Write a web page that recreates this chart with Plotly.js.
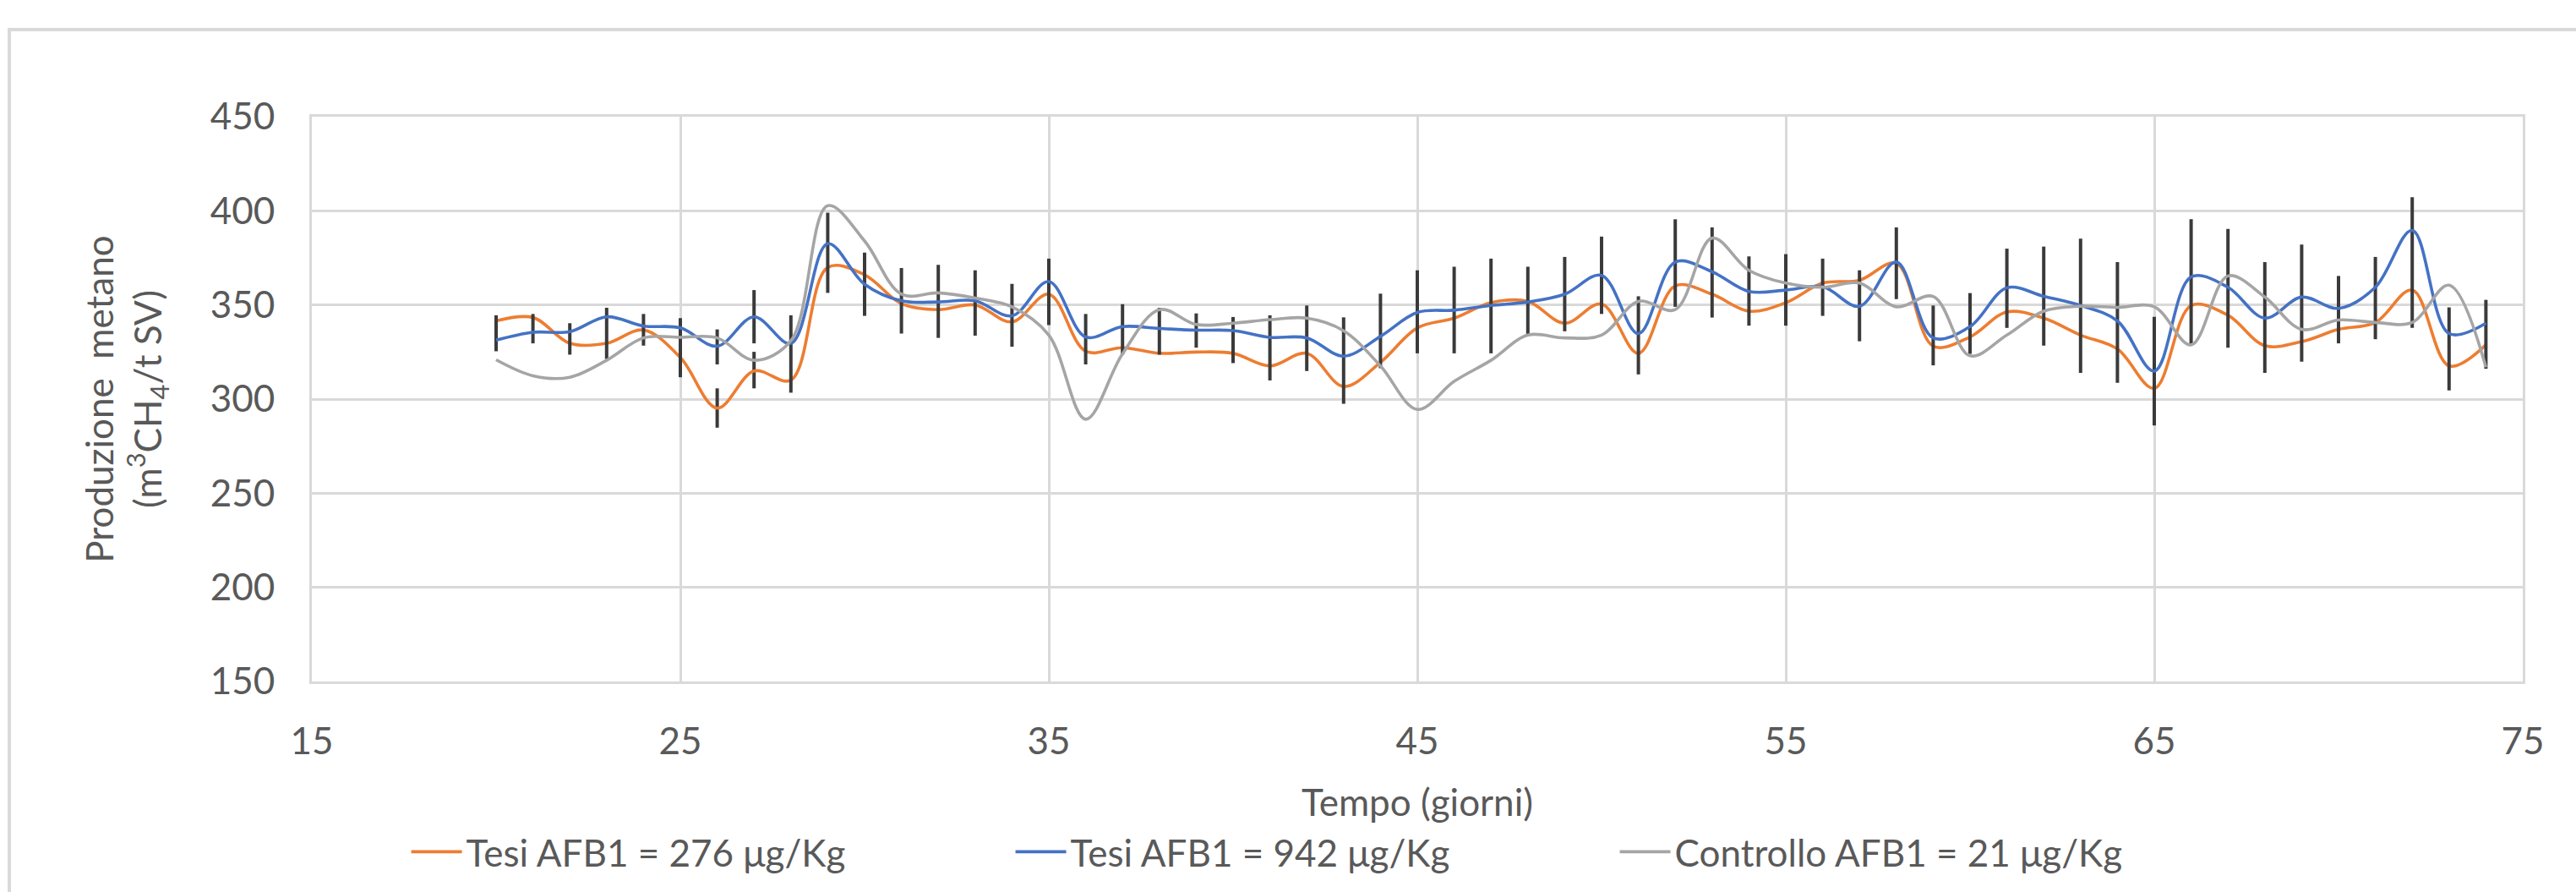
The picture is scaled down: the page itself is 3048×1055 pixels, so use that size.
<!DOCTYPE html>
<html>
<head>
<meta charset="utf-8">
<script src="https://cdn.plot.ly/plotly-3.0.1.min.js"></script>
<style>
  html, body { margin: 0; padding: 0; background: #ffffff; overflow: hidden; }
  #chart { position: absolute; left: 0; top: 0; width: 3048px; height: 1055px; }
  #frame { position: absolute; left: 9px; top: 33px; width: 3200px; height: 1200px;
           border-left: 4px solid #D9D9D9; border-top: 4px solid #D9D9D9; pointer-events: none; }
</style>
</head>
<body>
<div id="chart"></div>
<div id="frame"></div>
<script>
// Days (x values)
const days = [20,21,22,23,24,25,26,27,28,29,30,31,32,33,34,35,36,37,38,39,40,41,42,43,44,45,46,47,
              48,49,50,51,52,53,54,55,56,57,58,59,60,61,62,63,64,65,66,67,68,69,70,71,72,73,74];

// Tesi AFB1 = 276 µg/Kg
const tesi276 = [341.5,343.3,329.6,329.6,336.7,322.1,295.2,314.9,310.1,369.9,366.0,350.7,347.5,350.0,
                 341.0,355.7,325.4,327.3,324.3,325.0,324.3,317.6,324.3,306.7,319.5,337.8,343.0,351.2,
                 351.9,340.3,350.5,324.3,360.1,355.7,346.7,351.2,361.6,363.1,372.1,328.1,333.0,346.3,
                 343.0,334.0,326.6,305.7,349.7,344.5,328.4,330.5,337.0,340.7,357.9,317.6,328.8];

// Tesi AFB1 = 942 µg/Kg
const tesi942 = [331.3,335.5,335.8,343.7,338.8,337.8,328.1,343.7,329.6,382.5,361.0,352.2,351.6,352.2,
                 344.2,362.4,333.0,338.5,337.5,336.6,336.4,332.8,332.5,322.8,333.3,346.0,347.2,349.7,
                 351.6,355.7,365.7,334.8,372.8,367.6,357.2,357.9,359.7,349.3,372.8,332.5,338.5,359.1,
                 354.6,349.7,341.5,314.9,364.9,359.4,343.0,354.2,348.2,359.4,389.6,334.8,340.3];

// Controllo AFB1 = 21 µg/Kg
const controllo = [320.9,312.4,311.6,320.6,332.5,332.8,332.5,320.6,331.0,402.7,384.0,355.7,356.4,353.7,
                   349.0,334.0,289.3,324.0,347.5,339.6,340.3,342.2,343.0,336.3,317.6,294.5,309.4,320.6,
                   334.0,332.5,334.0,351.9,347.5,385.5,368.4,361.6,359.4,361.6,349.0,354.5,323.0,334.0,
                   346.7,349.3,348.7,349.0,328.8,365.4,354.2,337.0,342.0,340.7,340.7,360.5,316.9];

// Visible error bar extents (top / bottom) for each day
const barHigh = [344.5,345.2,340.3,348.5,345.2,343.0,337.0,357.9,344.5,399.0,377.8,369.6,371.3,368.4,
                 361.2,374.6,345.2,350.4,348.5,345.5,343.6,344.5,349.7,343.4,356.0,368.4,370.3,374.6,
                 370.3,375.5,386.3,354.6,395.5,391.2,375.8,377.0,374.6,368.4,391.2,349.7,356.3,379.9,
                 381.0,385.2,372.8,343.7,395.5,390.4,372.8,382.1,365.4,375.5,407.2,348.7,352.7];
const barLow  = [325.4,329.6,323.6,321.3,328.4,311.6,318.4,329.6,303.4,356.4,344.2,334.8,332.5,333.7,
                 327.8,339.3,318.4,323.6,323.6,327.3,319.1,309.9,314.9,297.5,316.4,324.3,324.3,324.3,
                 334.0,336.0,345.2,313.1,349.0,343.3,339.0,339.0,344.2,330.7,353.1,317.9,324.0,337.8,
                 328.4,313.9,308.7,286.0,328.8,327.3,313.9,319.9,329.6,331.8,337.8,304.6,316.1];
// Separate bars of the 276 µg/Kg series (days 26 and 27)
const orangeBarDays = [26, 27];
const orangeBarHigh = [305.7, 325.1];
const orangeBarLow  = [284.8, 305.7];

// Tick values
const xTicks = [15,25,35,45,55,65,75];
const yTicks = [150,200,250,300,350,400,450];

const names = ['Tesi AFB1 = 276 μg/Kg', 'Tesi AFB1 = 942 μg/Kg', 'Controllo AFB1 = 21 μg/Kg'];
const colors = ['#ED7D31', '#4472C4', '#A5A5A5'];

const blueErrPlus  = barHigh.map((h, i) => +(h - tesi942[i]).toFixed(2));
const blueErrMinus = barLow.map((l, i) => +(tesi942[i] - l).toFixed(2));
const orangeErrPlus  = days.map((d, i) => { const k = orangeBarDays.indexOf(d); return k < 0 ? 0 : +(orangeBarHigh[k] - tesi276[i]).toFixed(2); });
const orangeErrMinus = days.map((d, i) => { const k = orangeBarDays.indexOf(d); return k < 0 ? 0 : +(tesi276[i] - orangeBarLow[k]).toFixed(2); });

const errStyle = { type: 'data', symmetric: false, color: '#3a3a3a', thickness: 4, width: 0 };

const traces = [
  { x: days, y: tesi276, name: names[0], type: 'scatter', mode: 'lines',
    line: { color: colors[0], width: 3.6, shape: 'spline', smoothing: 1 },
    error_y: Object.assign({ array: orangeErrPlus, arrayminus: orangeErrMinus }, errStyle) },
  { x: days, y: tesi942, name: names[1], type: 'scatter', mode: 'lines',
    line: { color: colors[1], width: 3.6, shape: 'spline', smoothing: 1 },
    error_y: Object.assign({ array: blueErrPlus, arrayminus: blueErrMinus }, errStyle) },
  { x: days, y: controllo, name: names[2], type: 'scatter', mode: 'lines',
    line: { color: colors[2], width: 3.6, shape: 'spline', smoothing: 1 } }
];

const txt = '#595959';
const font = 'Lato, "Open Sans", sans-serif';

const layout = {
  width: 3048, height: 1055,
  margin: { l: 369, r: 63, t: 138, b: 245, pad: 0 },
  paper_bgcolor: 'rgba(0,0,0,0)', plot_bgcolor: '#ffffff',
  font: { family: font, size: 44, color: txt },
  showlegend: true,
  xaxis: {
    range: [15, 75], tickvals: xTicks, ticktext: xTicks.map(String),
    showgrid: true, gridcolor: '#D9D9D9', gridwidth: 3,
    showline: true, linecolor: '#D9D9D9', linewidth: 3, mirror: true,
    zeroline: false, ticks: '', ticklabelstandoff: 30,
    tickfont: { family: font, size: 44, color: txt },
    title: { text: 'Tempo (giorni)', standoff: 35, font: { family: font, size: 44, color: txt } }
  },
  yaxis: {
    range: [150, 450], tickvals: yTicks, ticktext: yTicks.map(String),
    showgrid: true, gridcolor: '#D9D9D9', gridwidth: 3,
    showline: true, linecolor: '#D9D9D9', linewidth: 3, mirror: true,
    zeroline: false, ticks: '', ticklabelstandoff: 32,
    tickfont: { family: font, size: 44, color: txt },
    title: { text: 'Produzione  metano<br>(m<sup>3</sup>CH<sub>4</sub>/t SV)', standoff: 44,
             font: { family: font, size: 44, color: txt } }
  },
  legend: {
    orientation: 'h', x: 0.453, xanchor: 'center', y: -0.302, yanchor: 'middle',
    font: { family: font, size: 44, color: txt },
    itemwidth: 60, entrywidth: 640, bgcolor: 'rgba(0,0,0,0)'
  }
};

Plotly.newPlot('chart', traces, layout, { displayModeBar: false, staticPlot: true });
</script>
</body>
</html>
